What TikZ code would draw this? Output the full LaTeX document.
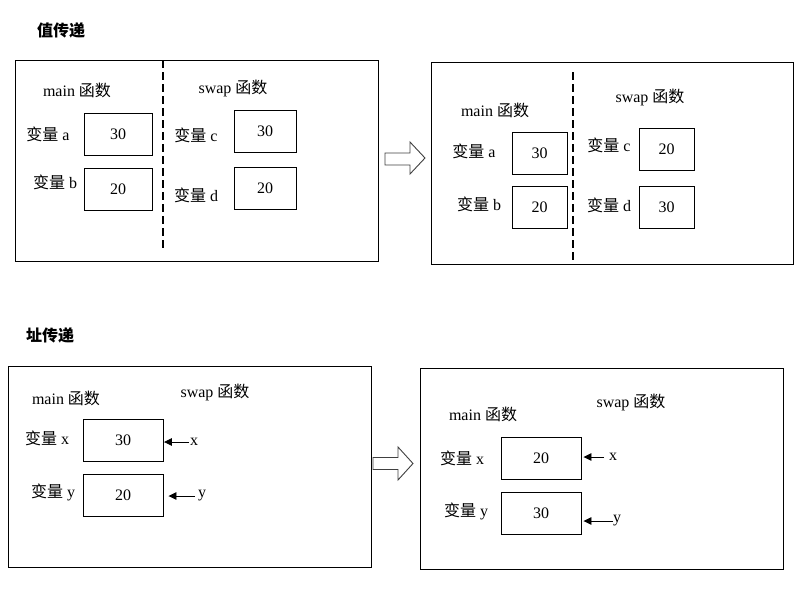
\documentclass[tikz,border=0pt]{standalone}
\usepackage{fontspec}
\setmainfont{Liberation Serif}
\newfontfamily\cjk{Noto Sans CJK SC}
\usetikzlibrary{arrows.meta}
\newcommand\zh[1]{{\cjk #1}}
\begin{document}
\begin{tikzpicture}[x=1pt,y=-1pt,
  font=\fontsize{16}{19}\selectfont,
  panel/.style={draw, line width=0.9pt},
  cell/.style={draw, line width=0.9pt, inner sep=0pt, minimum height=42pt},
  txt/.style={inner sep=0pt},
  divider/.style={line width=1.8pt, dash pattern=on 8pt off 4pt},
  ptr/.style={line width=0.9pt, -{Triangle[length=8pt,width=7.5pt]}},
  bigarrow/.style={draw=black!75, line width=0.9pt, fill=white},
  title/.style={inner sep=0pt, font=\fontsize{16}{19}\selectfont\cjk\bfseries}]
\useasboundingbox (0,0) rectangle (810,600);

% ---------- titles ----------
\node[title] (t1) at (61,30) {值传递};
\node[title] (t2) at (50,335) {址传递};

% ---------- panel 1 ----------
\draw[panel] (15,60) rectangle (378,261);
\draw[divider] (163,60) -- (163,248);
\node[txt] (m1) at (77,90) {main \zh{函数}};
\node[txt] (s1) at (233,88) {swap \zh{函数}};
\node[cell, minimum width=68pt] (a1) at (118,134.5) {30};
\node[cell, minimum width=68pt] (b1) at (118,189) {20};
\node[cell, minimum width=62pt] (c1) at (265,131) {30};
\node[cell, minimum width=62pt] (d1) at (265,188.5) {20};
\node[txt] (la1) at (48,134) {\zh{变量} a};
\node[txt] (lb1) at (55,182) {\zh{变量} b};
\node[txt] (lc1) at (196,135) {\zh{变量} c};
\node[txt] (ld1) at (196,195) {\zh{变量} d};

% ---------- big arrow 1 ----------
\draw[bigarrow] (385,153) -- (410,153) -- (410,142) -- (425,158) -- (410,174) -- (410,165) -- (385,165) -- cycle;

% ---------- panel 2 ----------
\draw[panel] (431,62) rectangle (793,264);
\draw[divider] (573,72) -- (573,262);
\node[txt] (m2) at (495,110) {main \zh{函数}};
\node[txt] (s2) at (650,97) {swap \zh{函数}};
\node[cell, minimum width=55pt] (a2) at (539.5,153) {30};
\node[cell, minimum width=55pt] (b2) at (539.5,207.5) {20};
\node[cell, minimum width=55pt] (c2) at (666.5,149) {20};
\node[cell, minimum width=55pt] (d2) at (666.5,207.5) {30};
\node[txt] (la2) at (474,151) {\zh{变量} a};
\node[txt] (lb2) at (479,204) {\zh{变量} b};
\node[txt] (lc2) at (609,145) {\zh{变量} c};
\node[txt] (ld2) at (609,205) {\zh{变量} d};

% ---------- panel 3 ----------
\draw[panel] (8,366) rectangle (371,567);
\node[txt] (m3) at (66,398) {main \zh{函数}};
\node[txt] (s3) at (215,392) {swap \zh{函数}};
\node[cell, minimum width=80pt] (x3) at (123,440) {30};
\node[cell, minimum width=80pt] (y3) at (123,495) {20};
\node[txt] (lx3) at (47,438) {\zh{变量} x};
\node[txt] (ly3) at (53,492) {\zh{变量} y};
\node[txt, anchor=west] (px3) at (190,442) {x};
\node[txt, anchor=west] (py3) at (198,496) {y};
\draw[ptr] ([xshift=-1pt]px3.west) -- ([xshift=0.5pt]x3.east |- px3.west);
\draw[ptr] ([xshift=-3pt]py3.west) -- ([xshift=5pt]y3.east |- py3.west);

% ---------- big arrow 2 ----------
\draw[bigarrow] (373,457.5) -- (398,457.5) -- (398,447) -- (413,463.5) -- (398,480) -- (398,469.5) -- (373,469.5) -- cycle;

% ---------- panel 4 ----------
\draw[panel] (420,368) rectangle (783,569);
\node[txt] (m4) at (483,414) {main \zh{函数}};
\node[txt] (s4) at (631,402) {swap \zh{函数}};
\node[cell, minimum width=80pt] (x4) at (541,458) {20};
\node[cell, minimum width=80pt] (y4) at (541,513) {30};
\node[txt] (lx4) at (462,458) {\zh{变量} x};
\node[txt] (ly4) at (466,511) {\zh{变量} y};
\node[txt, anchor=west] (px4) at (609,457) {x};
\node[txt, anchor=west] (py4) at (613,521) {y};
\draw[ptr] ([xshift=-5pt]px4.west) -- ([xshift=2pt]x4.east |- px4.west);
\draw[ptr] (py4.west) -- ([xshift=2pt]y4.east |- py4.west);
\end{tikzpicture}
\end{document}
